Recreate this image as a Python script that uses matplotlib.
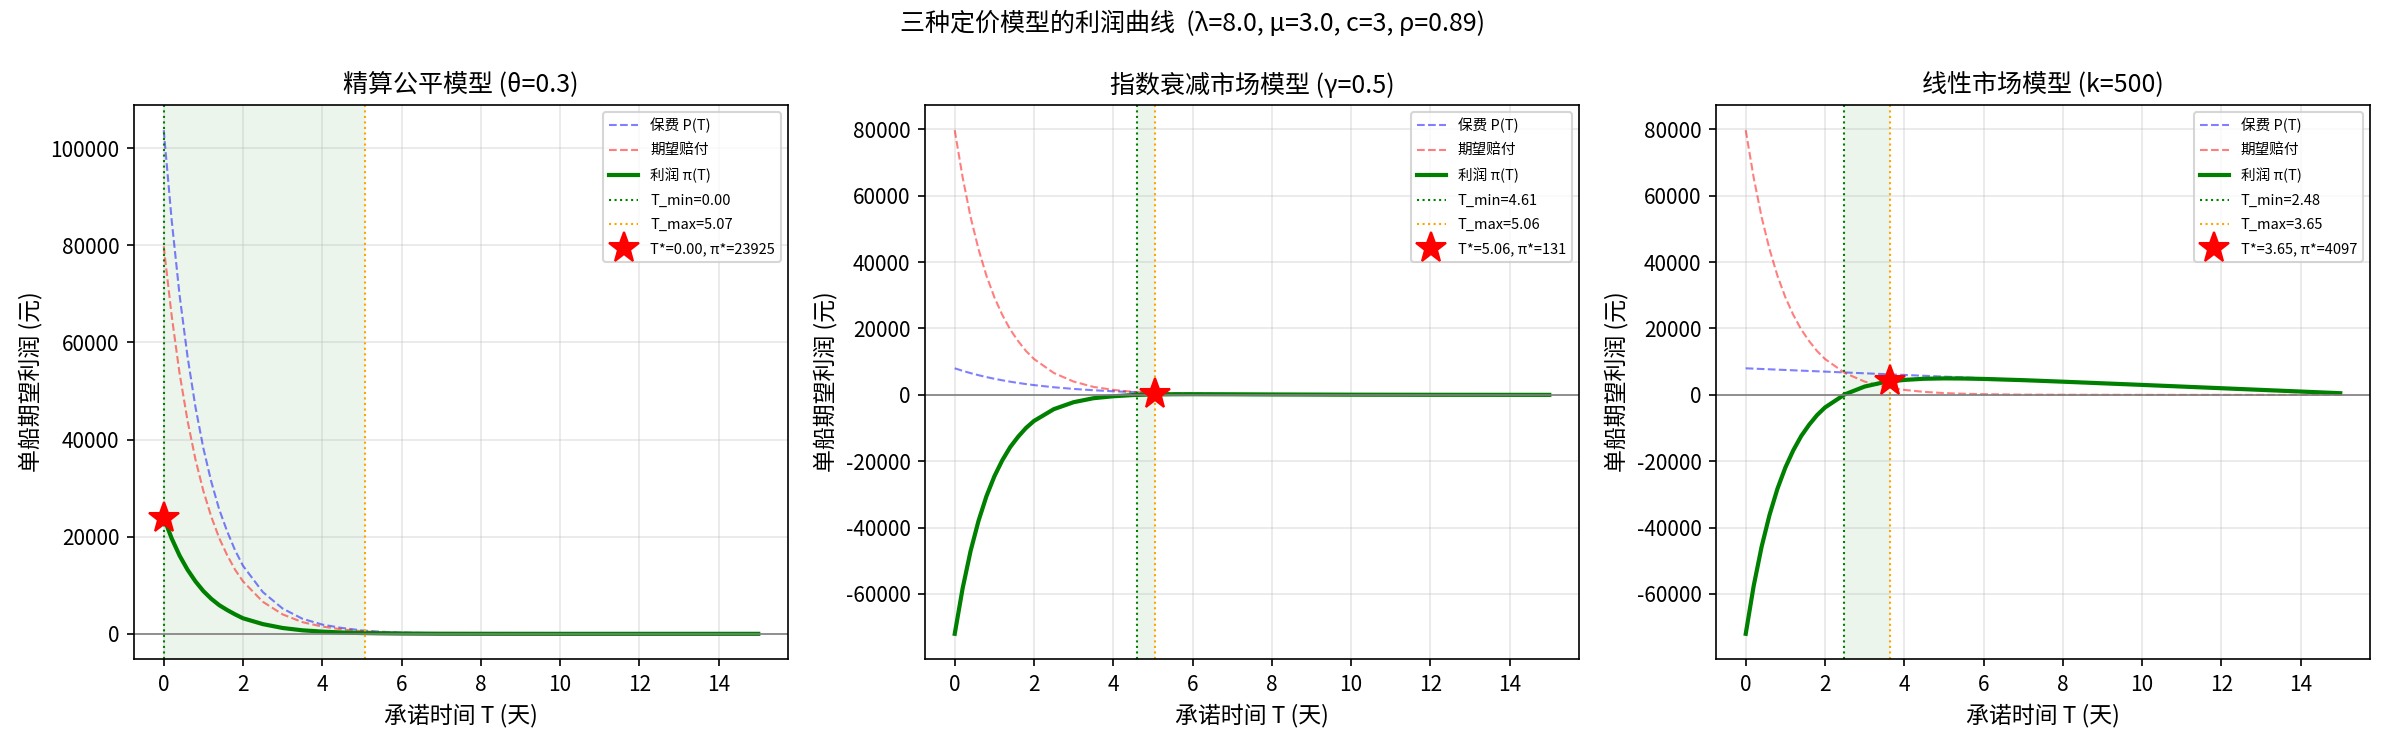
import matplotlib
matplotlib.use("Agg")
import matplotlib.pyplot as plt

plt.rcParams['font.family'] = ['Noto Sans CJK SC', 'DejaVu Sans']
plt.rcParams['axes.unicode_minus'] = False

# ---- data ----
T = [0, 0.2, 0.4, 0.6, 0.8, 1.0, 1.2, 1.4, 1.6, 1.8, 2.0, 2.5, 3.0, 3.5,
     4.0, 4.5, 5.0, 5.5, 6, 7, 8, 10, 12, 15]

claims = [79750, 65500, 53600, 43900, 35900, 29400, 24100, 19700, 16200, 13200,
          10800, 6600, 4000, 2400, 1500, 900, 540, 330, 200, 70, 30, 0, 0, 0]

# Model 1: actuarially fair
prem_fair = [103675, 85200, 69700, 57100, 46700, 38200, 31300, 25600, 21100, 17200,
             14000, 8600, 5200, 3100, 1900, 1200, 700, 430, 260, 90, 40, 0, 0, 0]
profit_fair = [23925, 19650, 16100, 13200, 10800, 8800, 7200, 5900, 4900, 4000,
               3200, 2000, 1200, 720, 450, 270, 160, 100, 60, 20, 10, 0, 0, 0]

# Model 2: exponential-decay market
prem_exp = [8000, 7240, 6550, 5930, 5360, 4850, 4390, 3970, 3590, 3250,
            2940, 2290, 1790, 1390, 1080, 840, 660, 510, 400, 240, 150, 50, 20, 0]
profit_exp = [-72000, -58260, -47050, -37970, -30540, -24550, -19710, -15730, -12610, -9950,
              -7860, -4310, -2210, -1010, -420, -60, 120, 180, 200, 170, 120, 50, 20, 0]

# Model 3: linear market
prem_lin = [8000, 7900, 7800, 7700, 7600, 7500, 7400, 7300, 7200, 7100,
            7000, 6750, 6500, 6250, 6000, 5750, 5500, 5250, 5000, 4500, 4000, 3000, 2000, 500]
profit_lin = [-72000, -57600, -45800, -36200, -28300, -21900, -16700, -12400, -9000, -6100,
              -3800, 150, 2500, 3850, 4500, 4850, 4960, 4920, 4800, 4430, 3970, 3000, 2000, 500]

titles = ['精算公平模型 (θ=0.3)', '指数衰减市场模型 (γ=0.5)', '线性市场模型 (k=500)']
premiums = [prem_fair, prem_exp, prem_lin]
profits = [profit_fair, profit_exp, profit_lin]
t_min = [0.00, 4.61, 2.48]
t_max = [5.07, 5.06, 3.65]
t_star = [0.00, 5.06, 3.65]
pi_star = [23925, 131, 4097]

suptitle = '三种定价模型的利润曲线  (λ=8.0, μ=3.0, c=3, ρ=0.89)'

# ---- figure ----
W, H = 2385, 742
fig = plt.figure(figsize=(W / 150, H / 150), dpi=150)

lefts = [134, 925, 1716]
ax_w, ax_top, ax_bot = 654, 105, 659

for i in range(3):
    ax = fig.add_axes([lefts[i] / W, (H - ax_bot) / H, ax_w / W, (ax_bot - ax_top) / H])
    ax.plot(T, premiums[i], color='b', ls='--', lw=1, alpha=0.5, label='保费 P(T)')
    ax.plot(T, claims, color='r', ls='--', lw=1, alpha=0.5, label='期望赔付')
    ax.plot(T, profits[i], color='g', lw=2, label='利润 π(T)')
    ax.axhline(0, color='gray', lw=0.8)
    ax.axvline(t_min[i], color='green', ls=':', lw=1, label=f'T_min={t_min[i]:.2f}')
    ax.axvline(t_max[i], color='orange', ls=':', lw=1, label=f'T_max={t_max[i]:.2f}')
    ax.axvspan(t_min[i], t_max[i], color='green', alpha=0.08, lw=0)
    ax.plot([t_star[i]], [pi_star[i]], 'r*', markersize=15,
            label=f'T*={t_star[i]:.2f}, π*={pi_star[i]}')
    ax.set_title(titles[i], fontsize=12)
    ax.set_xlabel('承诺时间 T (天)', fontsize=11)
    ax.set_ylabel('单船期望利润 (元)', fontsize=11)
    ax.grid(True, alpha=0.3)
    ax.legend(loc='upper right', fontsize=7, labelspacing=0.7)

fig.suptitle(suptitle, fontsize=12, y=0.985)
fig.savefig('out.png', dpi=150)
